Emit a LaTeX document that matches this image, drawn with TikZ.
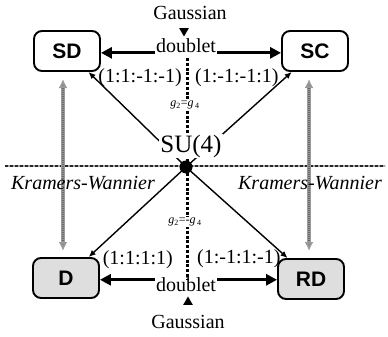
\documentclass[tikz,border=0pt]{standalone}
\usepackage{fontspec}
\setmainfont{Liberation Serif}
\setsansfont{Liberation Sans}
\usetikzlibrary{arrows.meta,shapes.geometric}

\begin{document}
\begin{tikzpicture}[x=1pt,y=-1pt,
  phase/.style={draw,line width=1.9pt,rounded corners=8pt,minimum width=66pt,
    minimum height=40pt,inner sep=0pt,font=\sffamily\bfseries\fontsize{21}{21}\selectfont},
  ordered/.style={phase,fill=black!13},
  txt/.style={font=\fontsize{20}{22}\selectfont,inner sep=1pt},
  itxt/.style={font=\itshape\fontsize{20}{22}\selectfont,inner sep=1pt},
  small/.style={font=\fontsize{12}{13}\selectfont,inner sep=1pt,fill=white},
  marker/.style={regular polygon,regular polygon sides=3,fill=black,inner sep=0pt,minimum size=11pt},
  duality/.style={line width=3pt,-{Triangle[length=11pt,width=11pt]}},
  flow/.style={line width=1.4pt,-{Latex[length=7pt,width=6pt]}},
  kwbase/.style={draw=black!40,line width=3.6pt,
    {Latex[length=9pt,width=9pt,fill=black!50]}-{Latex[length=9pt,width=9pt,fill=black!50]}},
  kwtex/.style={draw=black!60,line width=1.4pt,dash pattern=on 1pt off 1pt,shorten <=9pt,shorten >=9pt},
  haxis/.style={draw=black!35,line width=2.6pt},
  haxtex/.style={draw=black!85,line width=2pt,dash pattern=on 2.5pt off 2.5pt},
  vaxis/.style={line width=3pt,dash pattern=on 3pt off 1.8pt},
]
\useasboundingbox (0,0) rectangle (388,337);

% phases
\node[phase]   (SD) at (67,51)  {SD};
\node[phase]   (SC) at (315,51) {SC};
\node[ordered] (D)  at (66,278) {D};
\node[ordered] (RD) at (311,279) {RD};

% symmetry axes
\coordinate (hl) at (5,166);
\coordinate (hr) at (385,166);
\draw[haxis] (hl) -- (hr);
\draw[haxtex] (hl) -- (hr);
\coordinate (vt) at (187,58);
\coordinate (vb) at (187,279);
\draw[vaxis] (vt) -- (vb);

% central point
\coordinate (c) at (186,167);
\draw[flow] (c) -- (SD);
\draw[flow] (c) -- (SC);
\draw[flow] (c) -- (D);
\draw[flow] (c) -- (RD);

% labels on the axes
\node[small] (gp) at (185,105) {\textit{g}\textsubscript{2}=\textit{g}\textsubscript{\,4}};
\node[small] (gm) at (185,222) {\textit{g}\textsubscript{2}=-\textit{g}\textsubscript{\,4}};
\node[font=\fontsize{25}{26}\selectfont,fill=white,inner sep=1pt] (su) at (191,146) {SU(4)};
\fill (c) circle (6.5pt);

% ratios
\node[txt,anchor=east] (r1) at (183,78) {(1:1:-1:-1)};
\node[txt,anchor=west] (r2) at (194,78) {(1:-1:-1:1)};
\node[txt,anchor=east] (r3) at (174,260) {(1:1:1:1)};
\node[txt,anchor=west] (r4) at (196,259) {(1:-1:1:-1)};

% Kramers-Wannier dualities
\coordinate (kl1) at (63,79);
\coordinate (kl2) at (63,251);
\coordinate (kr1) at (309,79);
\coordinate (kr2) at (309,251);
\draw[kwbase] (kl1) -- (kl2);
\draw[kwtex] (kl1) -- (kl2);
\draw[kwbase] (kr1) -- (kr2);
\draw[kwtex] (kr1) -- (kr2);
\node[itxt] (kwl) at (83,183) {Kramers-Wannier};
\node[itxt] (kwr) at (310,183) {Kramers-Wannier};

% Gaussian doublets
\node[txt] (gt) at (190,13) {Gaussian};
\node[marker,rotate=180] (mt) at (184,31) {};
\node[txt] (dt) at (186,46) {doublet};
\draw[duality] (dt.base west) -- (dt.base west -| SD.east);
\draw[duality] (dt.base east) -- (dt.base east -| SC.west);

\node[txt] (db) at (186,285) {doublet};
\node[marker] (mb) at (188,302) {};
\node[txt] (gb) at (188,322) {Gaussian};
\draw[duality] (db.north west) ++(0,3) coordinate (dbl) -- (dbl -| D.east);
\draw[duality] (db.north east) ++(0,3) coordinate (dbr) -- (dbr -| RD.west);
\end{tikzpicture}
\end{document}
